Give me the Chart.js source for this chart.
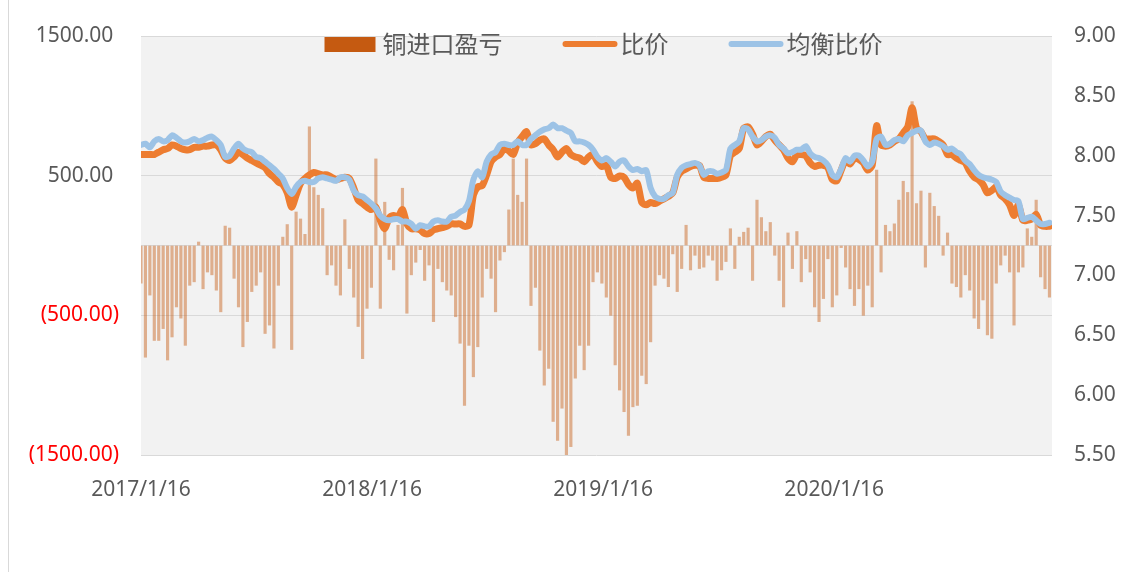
<!DOCTYPE html>
<html>
<head>
<meta charset="utf-8">
<script src="https://cdn.jsdelivr.net/npm/chart.js@4.4.0/dist/chart.umd.min.js"></script>
<style>
  html, body { margin: 0; padding: 0; background: #fff; }
  #wrap { width: 1137px; height: 572px; }
</style>
</head>
<body>
<div id="wrap"><canvas id="myChart" width="1137" height="572"></canvas></div>
<script>
// x axis: days since 2017/1/16, one sample per week
const tickLabels = ["2017/1/16", "2018/1/16", "2019/1/16", "2020/1/16"];
const tickDays = [0, 365, 730, 1095];
const lastDay = 1439;

// 铜进口盈亏 (left axis)
const profit = [
  -270, -800, -355, -680, -680, -595, -820, -655, -440, -520,
  -715, -285, -260, 25, -310, -190, -210, -320, -475, 139,
  125, -235, -440, -725, -545, -330, -285, -190, -630, -570,
  -735, -285, 60, 150, -745, 240, 190, 80, 850, 415,
  360, 265, -210, -140, -285, -355, 185, -165, -370, -580,
  -810, -450, -300, 620, -450, 310, -100, -175, 145, 410,
  -485, -210, -120, -30, -250, -140, -545, -165, -260, -320,
  -355, -510, -700, -1145, -715, -940, -725, -370, -165, -235,
  -475, -105, -45, 255, 620, 360, 310, 620, -430, -300,
  -750, -1000, -880, -1260, -1395, -1165, -1500, -1440, -950, -715,
  -890, -715, -260, -190, -270, -370, -500, -855, -1035, -1190,
  -1360, -1155, -1145, -930, -990, -690, -285, -210, -235, -295,
  -60, -330, -165, 145, -175, -70, -165, -155, -70, -105,
  -250, -175, -115, 120, -165, 60, 95, 125, -250, 325,
  200, 100, 165, -70, -250, -440, 90, -165, 100, -260,
  -95, -190, -440, -545, -380, -95, -440, -355, -15, -155,
  -310, -430, -310, -500, -285, -440, 540, -190, 145, 100,
  155, 325, 460, 380, 1030, 300, 390, -155, 375, 280,
  210, -70, 90, -270, -295, -370, -210, -320, -520, -595,
  -390, -640, -665, -270, -140, -70, -190, -570, -190, -155,
  120, 60, 325, -225, -310, -370
];

// 比价 (right axis)
const ratio = [
  8.01, 8.01, 8.01, 8.01, 8.03, 8.05, 8.06, 8.09, 8.08, 8.06,
  8.05, 8.05, 8.07, 8.07, 8.08, 8.08, 8.09, 8.09, 8.05, 7.98,
  7.96, 7.99, 8.03, 8.01, 7.98, 7.96, 7.94, 7.92, 7.90, 7.85,
  7.82, 7.78, 7.76, 7.69, 7.57, 7.67, 7.77, 7.81, 7.84, 7.86,
  7.85, 7.84, 7.84, 7.82, 7.80, 7.81, 7.82, 7.81, 7.73, 7.63,
  7.60, 7.57, 7.55, 7.57, 7.46, 7.39, 7.48, 7.50, 7.49, 7.55,
  7.43, 7.39, 7.39, 7.38, 7.35, 7.35, 7.38, 7.39, 7.40, 7.41,
  7.43, 7.43, 7.43, 7.41, 7.42, 7.67, 7.74, 7.75, 7.84, 7.95,
  7.99, 8.01, 8.06, 8.04, 8.01, 8.11, 8.16, 8.20, 8.09, 8.10,
  8.13, 8.14, 8.09, 8.05, 7.99, 8.03, 8.06, 8.01, 7.99, 7.98,
  7.95, 7.99, 8.01, 7.95, 7.91, 7.92, 7.82, 7.81, 7.83, 7.82,
  7.76, 7.73, 7.77, 7.61, 7.59, 7.61, 7.60, 7.62, 7.64, 7.66,
  7.69, 7.82, 7.87, 7.89, 7.91, 7.92, 7.92, 7.82, 7.81, 7.81,
  7.81, 7.82, 7.84, 8.00, 8.03, 8.06, 8.23, 8.24, 8.18, 8.09,
  8.12, 8.16, 8.18, 8.13, 8.09, 8.05, 7.98, 7.95, 8.01, 8.01,
  8.00, 7.94, 7.91, 7.92, 7.92, 7.90, 7.80, 7.79, 7.88, 7.96,
  7.93, 7.98, 7.97, 7.94, 7.88, 7.92, 8.25, 8.09, 8.08, 8.09,
  8.12, 8.14, 8.19, 8.24, 8.40, 8.23, 8.20, 8.14, 8.14, 8.14,
  8.12, 8.09, 8.01, 8.01, 7.98, 7.96, 7.94, 7.87, 7.82, 7.80,
  7.76, 7.69, 7.71, 7.74, 7.67, 7.64, 7.59, 7.50, 7.59, 7.46,
  7.46, 7.47, 7.51, 7.42, 7.41, 7.41
];

// 均衡比价 (right axis)
const balance = [
  8.09, 8.10, 8.07, 8.12, 8.14, 8.12, 8.13, 8.17, 8.15, 8.12,
  8.11, 8.12, 8.14, 8.12, 8.13, 8.15, 8.16, 8.13, 8.09, 7.99,
  8.00, 8.06, 8.10, 8.06, 8.04, 8.03, 7.99, 7.98, 7.95, 7.92,
  7.89, 7.85, 7.81, 7.73, 7.68, 7.74, 7.78, 7.79, 7.78, 7.78,
  7.81, 7.82, 7.81, 7.80, 7.79, 7.82, 7.82, 7.80, 7.71, 7.67,
  7.66, 7.63, 7.60, 7.56, 7.50, 7.47, 7.46, 7.47, 7.47, 7.45,
  7.45, 7.43, 7.39, 7.42, 7.41, 7.41, 7.45, 7.46, 7.45, 7.45,
  7.49, 7.50, 7.53, 7.55, 7.62, 7.80, 7.87, 7.82, 7.95, 8.01,
  8.03, 8.09, 8.10, 8.09, 8.09, 8.12, 8.09, 8.09, 8.14, 8.17,
  8.20, 8.22, 8.23, 8.26, 8.23, 8.23, 8.21, 8.19, 8.12, 8.12,
  8.11, 8.09, 8.05, 7.99, 7.96, 7.98, 7.95, 7.91, 7.95, 7.96,
  7.91, 7.88, 7.89, 7.87, 7.88, 7.73, 7.66, 7.64, 7.64, 7.67,
  7.69, 7.84, 7.90, 7.92, 7.93, 7.94, 7.92, 7.84, 7.87, 7.87,
  7.85, 7.86, 7.88, 8.06, 8.09, 8.12, 8.23, 8.22, 8.16, 8.12,
  8.13, 8.16, 8.17, 8.15, 8.09, 8.06, 8.02, 8.03, 8.05, 8.05,
  8.08, 8.02, 7.99, 7.98, 7.96, 7.92, 7.84, 7.82, 7.89, 7.98,
  7.95, 8.00, 8.00, 7.96, 7.91, 7.95, 8.14, 8.16, 8.09, 8.10,
  8.13, 8.14, 8.12, 8.17, 8.19, 8.21, 8.21, 8.12, 8.09, 8.11,
  8.10, 8.08, 8.05, 8.06, 8.03, 8.01, 7.96, 7.93, 7.88, 7.84,
  7.82, 7.81, 7.80, 7.78, 7.70, 7.67, 7.65, 7.63, 7.62, 7.47,
  7.48, 7.49, 7.46, 7.43, 7.43, 7.44
];

const weekDays = profit.map((_, i) => i * 7);
const toPoints = (arr) => arr.map((v, i) => ({ x: weekDays[i], y: v }));

const TEXT = "#595959";
const GRID = "#d9d9d9";

// grey plot background + left frame line
const plotBg = {
  id: "plotBg",
  beforeDraw(chart) {
    const { ctx, chartArea: a } = chart;
    ctx.save();
    ctx.fillStyle = "#f2f2f2";
    ctx.fillRect(a.left, a.top, a.right - a.left, a.bottom - a.top);
    ctx.strokeStyle = GRID;
    ctx.lineWidth = 1;
    ctx.beginPath();
    ctx.moveTo(8.5, 0);
    ctx.lineTo(8.5, chart.height);
    ctx.stroke();
    ctx.restore();
  },
};

// legend drawn over the top of the plot, like the Excel one
const topLegend = {
  id: "topLegend",
  afterDraw(chart) {
    const { ctx, chartArea: a } = chart;
    const sw = 55, gap = 3, sep = 60, y = 44;
    ctx.save();
    ctx.font = '24px "Noto Sans CJK SC"';
    ctx.textBaseline = "middle";
    const items = chart.data.datasets.map((ds) => ({
      text: ds.label,
      bar: ds.type === "bar",
      color: ds.legendColor,
      w: sw + gap + ctx.measureText(ds.label).width,
    }));
    const total = items.reduce((s, it) => s + it.w, 0) + sep * (items.length - 1);
    let x = (a.left + a.right) / 2 + 7 - total / 2;
    items.forEach((it) => {
      if (it.bar) {
        ctx.fillStyle = it.color;
        ctx.fillRect(x, y - 7, sw - 4, 15);
      } else {
        ctx.strokeStyle = it.color;
        ctx.lineWidth = 6;
        ctx.lineCap = "round";
        ctx.beginPath();
        ctx.moveTo(x + 3, y);
        ctx.lineTo(x + sw - 3, y);
        ctx.stroke();
      }
      ctx.fillStyle = TEXT;
      ctx.fillText(it.text, x + sw + gap, y);
      x += it.w + sep;
    });
    ctx.restore();
  },
};

const ctx = document.getElementById("myChart").getContext("2d");

const myChart = new Chart(ctx, {
  type: "bar",
  data: {
    datasets: [
      {
        type: "bar",
        label: "铜进口盈亏",
        data: toPoints(profit),
        yAxisID: "y",
        backgroundColor: "rgba(197, 90, 17, 0.45)",
        legendColor: "#C55A11",
        barThickness: 2.5,
        order: 3,
      },
      {
        type: "line",
        label: "比价",
        data: toPoints(ratio),
        yAxisID: "y1",
        borderColor: "#ED7D31",
        legendColor: "#ED7D31",
        borderWidth: 7,
        pointRadius: 0,
        tension: 0.25,
        borderJoinStyle: "round",
        borderCapStyle: "round",
        order: 2,
      },
      {
        type: "line",
        label: "均衡比价",
        data: toPoints(balance),
        yAxisID: "y1",
        borderColor: "#9DC3E6",
        legendColor: "#9DC3E6",
        borderWidth: 6,
        pointRadius: 0,
        tension: 0.25,
        borderJoinStyle: "round",
        borderCapStyle: "round",
        order: 1,
      },
    ],
  },
  options: {
    responsive: false,
    animation: false,
    layout: { padding: { top: 36, left: 0, right: 0, bottom: 0 } },
    plugins: {
      legend: { display: false },
      tooltip: { enabled: false },
    },
    scales: {
      x: {
        type: "linear",
        offset: false,
        min: 0,
        max: lastDay,
        grid: { display: false, offset: false },
        border: { display: false },
        afterBuildTicks: (s) => {
          s.ticks = tickDays.map((v) => ({ value: v }));
        },
        afterFit: (s) => {
          s.height = 117;
        },
        ticks: {
          callback: (v, i) => tickLabels[i],
          color: TEXT,
          font: { family: "Noto Sans", size: 21 },
          padding: 14,
          maxRotation: 0,
          autoSkip: false,
        },
      },
      y: {
        position: "left",
        min: -1500,
        max: 1500,
        border: { display: false },
        grid: {
          drawTicks: false,
          color: (c) => (Math.abs(c.tick.value) === 1000 ? "rgba(0,0,0,0)" : GRID),
        },
        afterFit: (s) => {
          s.width = 141;
        },
        ticks: {
          stepSize: 500,
          padding: 22,
          autoSkip: false,
          font: { family: "Noto Sans", size: 21 },
          color: (c) => (c.tick.value < 0 ? "#ff0000" : TEXT),
          callback: (v) => {
            if (Math.abs(v) % 1000 !== 500) return "";
            return v < 0 ? "(" + (-v).toFixed(2) + ")" : v.toFixed(2) + "\u2008";
          },
        },
      },
      y1: {
        position: "right",
        min: 5.5,
        max: 9,
        border: { display: false },
        grid: { display: false, drawTicks: false },
        afterFit: (s) => {
          s.width = 85;
        },
        ticks: {
          stepSize: 0.5,
          padding: 22,
          color: TEXT,
          font: { family: "Noto Sans", size: 21 },
          callback: (v) => v.toFixed(2),
        },
      },
    },
  },
  plugins: [plotBg, topLegend],
});
</script>
</body>
</html>
